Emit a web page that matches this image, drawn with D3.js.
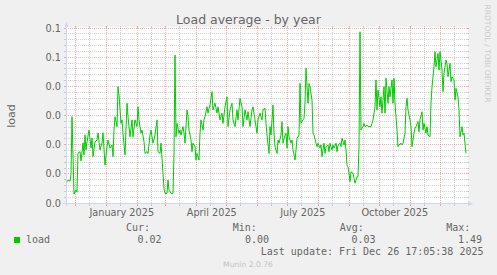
<!DOCTYPE html>
<html>
<head>
<meta charset="utf-8">
<script src="https://cdn.jsdelivr.net/npm/d3@7"></script>
<style>
  html, body { margin: 0; padding: 0; background: #f0f0f0; }
  svg { display: block; }
  text { font-family: "DejaVu Sans", sans-serif; fill: #666666; }
  text.mono { font-family: "DejaVu Sans Mono", monospace; }
</style>
</head>
<body>
<div id="chart"></div>
<script>
// [days since 2024-11-22, load]
var loadSamples = [
  [0,0.0073],[1,0.0079],[3,0.0075],[4,0.0099],[5,0.0296],[7,0.0031],[9,0.0045],[10,0.0038],[11,0.0171],[13,0.0176],
  [14,0.0144],[16,0.0206],[17,0.0165],[18,0.0233],[19,0.0182],[20,0.0209],[22,0.0250],[24,0.0189],[25,0.0223],[26,0.0159],
  [28,0.0209],[30,0.0216],[31,0.0240],[33,0.0182],[35,0.0206],[36,0.0241],[38,0.0130],[40,0.0193],[41,0.0216],[43,0.0188],
  [45,0.0199],[46,0.0159],[47,0.0250],[48,0.0296],[50,0.0262],[51,0.0399],[52,0.0370],[54,0.0273],[55,0.0285],[56,0.0239],
  [58,0.0165],[60,0.0342],[61,0.0296],[63,0.0227],[65,0.0285],[66,0.0227],[68,0.0285],[70,0.0262],[71,0.0330],[72,0.0285],
  [74,0.0239],[75,0.0250],[77,0.0210],[78,0.0170],[80,0.0176],[81,0.0170],[83,0.0233],[84,0.0250],[86,0.0205],[88,0.0233],
  [90,0.0285],[91,0.0176],[93,0.0170],[94,0.0205],[96,0.0102],[97,0.0050],[98,0.0033],[100,0.0033],[101,0.0079],[102,0.0045],
  [104,0.0033],[106,0.0033],[107,0.0170],[108,0.0507],[109,0.0227],[110,0.0273],[112,0.0239],[113,0.0250],[114,0.0233],[116,0.0262],
  [117,0.0239],[118,0.0205],[120,0.0319],[121,0.0296],[122,0.0250],[124,0.0216],[125,0.0176],[126,0.0205],[128,0.0193],[129,0.0147],
  [130,0.0170],[132,0.0147],[133,0.0239],[134,0.0285],[136,0.0250],[137,0.0285],[138,0.0296],[140,0.0330],[141,0.0308],[143,0.0336],
  [145,0.0382],[146,0.0319],[148,0.0342],[150,0.0308],[151,0.0330],[153,0.0285],[155,0.0308],[156,0.0273],[158,0.0330],[160,0.0364],
  [161,0.0262],[163,0.0319],[165,0.0342],[166,0.0285],[168,0.0262],[170,0.0319],[171,0.0285],[173,0.0359],[175,0.0330],[176,0.0262],
  [178,0.0319],[180,0.0285],[181,0.0313],[183,0.0262],[185,0.0319],[186,0.0330],[188,0.0285],[190,0.0239],[191,0.0285],[193,0.0308],
  [195,0.0285],[196,0.0319],[198,0.0325],[199,0.0273],[200,0.0233],[202,0.0170],[203,0.0262],[204,0.0233],[206,0.0336],[207,0.0239],
  [208,0.0193],[210,0.0170],[211,0.0216],[212,0.0205],[214,0.0233],[215,0.0279],[216,0.0205],[217,0.0222],[219,0.0239],[220,0.0188],
  [221,0.0262],[222,0.0227],[224,0.0205],[225,0.0216],[226,0.0182],[228,0.0147],[229,0.0182],[230,0.0222],[232,0.0233],[233,0.0410],
  [234,0.0273],[236,0.0285],[237,0.0290],[238,0.0342],[239,0.0462],[241,0.0342],[242,0.0410],[243,0.0399],[245,0.0353],[246,0.0239],
  [247,0.0233],[249,0.0205],[250,0.0193],[251,0.0205],[253,0.0188],[254,0.0199],[255,0.0159],[257,0.0205],[258,0.0170],[259,0.0193],
  [261,0.0199],[262,0.0176],[263,0.0205],[265,0.0182],[266,0.0199],[267,0.0188],[269,0.0205],[270,0.0176],[271,0.0199],[273,0.0205],
  [274,0.0193],[275,0.0222],[277,0.0199],[278,0.0216],[279,0.0182],[280,0.0130],[281,0.0124],[282,0.0102],[283,0.0073],[284,0.0107],
  [286,0.0102],[287,0.0085],[288,0.0068],[290,0.0090],[291,0.0090],[292,0.0193],[293,0.0587],[294,0.0250],[296,0.0262],[297,0.0273],
  [298,0.0262],[300,0.0267],[301,0.0262],[302,0.0262],[304,0.0262],[305,0.0273],[306,0.0285],[308,0.0330],[309,0.0422],[310,0.0319],
  [311,0.0387],[313,0.0330],[314,0.0364],[315,0.0308],[317,0.0399],[318,0.0308],[319,0.0428],[321,0.0342],[322,0.0399],[323,0.0364],
  [325,0.0422],[326,0.0342],[327,0.0428],[328,0.0342],[330,0.0250],[331,0.0193],[332,0.0199],[334,0.0205],[335,0.0199],[336,0.0205],
  [338,0.0239],[339,0.0330],[340,0.0359],[341,0.0319],[343,0.0285],[344,0.0262],[345,0.0193],[347,0.0239],[348,0.0256],[349,0.0262],
  [351,0.0279],[352,0.0244],[353,0.0285],[355,0.0313],[356,0.0250],[357,0.0273],[359,0.0239],[360,0.0262],[361,0.0233],[363,0.0227],
  [364,0.0342],[365,0.0399],[367,0.0467],[368,0.0519],[369,0.0467],[371,0.0513],[372,0.0456],[373,0.0519],[375,0.0456],[376,0.0382],
  [377,0.0445],[379,0.0490],[380,0.0479],[381,0.0433],[383,0.0479],[384,0.0416],[385,0.0433],[387,0.0422],[388,0.0353],[389,0.0393],
  [391,0.0364],[392,0.0319],[393,0.0227],[395,0.0262],[396,0.0233],[397,0.0239],[399,0.0170]
];

var yTicks = [0, 0.01, 0.02, 0.03, 0.04, 0.05, 0.06],
    yTickLabels = ["0.0", "0.0", "0.0", "0.0", "0.0", "0.1", "0.1"],
    xTickMonths = [[2025, 0], [2025, 3], [2025, 6], [2025, 9]],
    xTickLabels = ["January 2025", "April 2025", "July 2025", "October 2025"],
    legendNames = ["Cur:", "Min:", "Avg:", "Max:"],
    legendValues = ["0.02", "0.00", "0.03", "1.49"];

var width = 497, height = 275,
    plotLeft = 66, plotRight = 466, plotTop = 28, plotBottom = 203,
    end = new Date(2025, 11, 26, 17, 5, 38),
    start = d3.timeDay.offset(end, -400),
    seriesStart = d3.timeDay.offset(start, 1),
    majorGrid = "rgba(222, 79, 79, 0.45)",
    minorGrid = "rgba(143, 143, 143, 0.4)",
    axisColor = "#cfd6f8";

var x = d3.scaleTime().domain([start, end]).range([plotLeft, plotRight]),
    y = d3.scaleLinear().domain([0, 0.06]).range([plotBottom, plotTop]),
    px = v => Math.floor(v) + 0.5;

var svg = d3.select("#chart")
    .append("svg")
        .attr("width", width)
        .attr("height", height);

svg.append("rect")
    .attr("width", width).attr("height", height)
    .attr("fill", "#f0f0f0");

svg.append("rect")
    .attr("x", plotLeft).attr("y", plotTop - 1)
    .attr("width", plotRight - plotLeft + 2).attr("height", plotBottom - plotTop + 1)
    .attr("fill", "#ffffff");

// grid
var minorY = d3.range(0, 31).filter(i => i % 5 != 0).map(i => i * 0.002),
    months = d3.timeMonth.range(start, end),
    midMonths = d3.timeMonth.range(d3.timeMonth.floor(start), end)
        .map(m => d3.timeDay.offset(m, 14))
        .filter(d => d > start && d < end);

var grid = svg.append("g");

function hLines(values, color) {
    grid.selectAll(null).data(values).enter().append("line")
        .attr("x1", plotLeft).attr("x2", plotRight + 2)
        .attr("y1", d => px(y(d))).attr("y2", d => px(y(d)))
        .attr("stroke", color).attr("stroke-dasharray", "1,1");
    grid.selectAll(null).data(values).enter().append("path")
        .attr("d", d => `M${plotLeft - 2},${px(y(d))}h2M${plotRight + 1},${px(y(d))}h2`)
        .attr("stroke", color);
}

function vLines(dates, color) {
    grid.selectAll(null).data(dates).enter().append("line")
        .attr("x1", d => px(x(d))).attr("x2", d => px(x(d)))
        .attr("y1", plotTop).attr("y2", plotBottom)
        .attr("stroke", color).attr("stroke-dasharray", "1,1");
    grid.selectAll(null).data(dates).enter().append("path")
        .attr("d", d => `M${px(x(d))},${plotTop - 2}v2M${px(x(d))},${plotBottom + 1}v2`)
        .attr("stroke", color);
}

hLines(minorY, minorGrid);
vLines(midMonths, minorGrid);
hLines(yTicks, majorGrid);
vLines(months, majorGrid);

// axes
svg.append("path")
    .attr("d", `M${plotLeft - 3},${plotBottom + 0.5}H${plotRight + 3}M${plotLeft + 0.5},${plotBottom + 3}V${plotTop - 2}`)
    .attr("stroke", axisColor).attr("fill", "none");
svg.append("path")
    .attr("d", `M${plotRight + 2},${plotBottom - 2}L${plotRight + 7},${plotBottom + 0.5}L${plotRight + 2},${plotBottom + 3}Z`)
    .attr("fill", axisColor);
svg.append("path")
    .attr("d", `M${plotLeft - 1.5},${plotTop - 1}L${plotLeft + 0.5},${plotTop - 6.5}L${plotLeft + 2.5},${plotTop - 1}Z`)
    .attr("fill", axisColor);

// series
var line = d3.line()
    .x(d => x(d3.timeDay.offset(seriesStart, d[0])))
    .y(d => y(d[1]));

svg.append("path")
    .datum(loadSamples)
    .attr("d", line)
    .attr("fill", "none")
    .attr("stroke", "#00cc00")
    .attr("stroke-width", 1);

// labels
svg.selectAll(".ylab")
    .data(yTicks)
  .enter().append("text")
    .attr("class", "ylab")
    .attr("x", 61)
    .attr("y", d => px(y(d)) + 3.5)
    .attr("text-anchor", "end")
    .style("font-size", "9.72px")
    .text((d, i) => yTickLabels[i]);

svg.selectAll(".xlab")
    .data(xTickMonths)
  .enter().append("text")
    .attr("class", "xlab")
    .attr("x", d => x(d3.timeDay.offset(new Date(d[0], d[1], 1), 15)) + 0.5)
    .attr("y", 216)
    .attr("text-anchor", "middle")
    .style("font-size", "9.72px")
    .text((d, i) => xTickLabels[i]);

svg.append("text")
    .attr("x", 248.5).attr("y", 23.5)
    .attr("text-anchor", "middle")
    .style("font-size", "12.5px")
    .text("Load average - by year");

svg.append("text")
    .attr("transform", `translate(14.5, ${(plotTop + plotBottom) / 2 + 0.5}) rotate(-90)`)
    .attr("text-anchor", "middle")
    .style("font-size", "11.1px")
    .text("load");

svg.append("text")
    .attr("transform", "translate(485, 53.5) rotate(90)")
    .attr("text-anchor", "middle")
    .style("font-size", "7.64px")
    .style("fill", "#cccccc")
    .text("RRDTOOL / TOBI OETIKER");

// legend
var nameX = [126, 232.8, 339.8, 446.2],
    valueX = [137.5, 245, 351.5, 458];

svg.append("rect")
    .attr("x", 14).attr("y", 237)
    .attr("width", 6).attr("height", 6)
    .attr("fill", "#00cc00");

svg.append("text").attr("class", "mono")
    .attr("x", 26).attr("y", 243)
    .style("font-size", "10px")
    .text("load");

svg.selectAll(".lname")
    .data(legendNames)
  .enter().append("text")
    .attr("class", "mono lname")
    .attr("x", (d, i) => nameX[i]).attr("y", 231)
    .style("font-size", "10px")
    .text(d => d);

svg.selectAll(".lval")
    .data(legendValues)
  .enter().append("text")
    .attr("class", "mono lval")
    .attr("x", (d, i) => valueX[i]).attr("y", 243)
    .style("font-size", "10px")
    .text(d => d);

svg.append("text").attr("class", "mono")
    .attr("x", 483.5).attr("y", 255)
    .attr("text-anchor", "end")
    .style("font-size", "10px")
    .text("Last update: Fri Dec 26 17:05:38 2025");

svg.append("text")
    .attr("x", 248).attr("y", 267)
    .attr("text-anchor", "middle")
    .style("font-size", "7.64px")
    .style("fill", "#c4c4c4")
    .text("Munin 2.0.76");
</script>
</body>
</html>
